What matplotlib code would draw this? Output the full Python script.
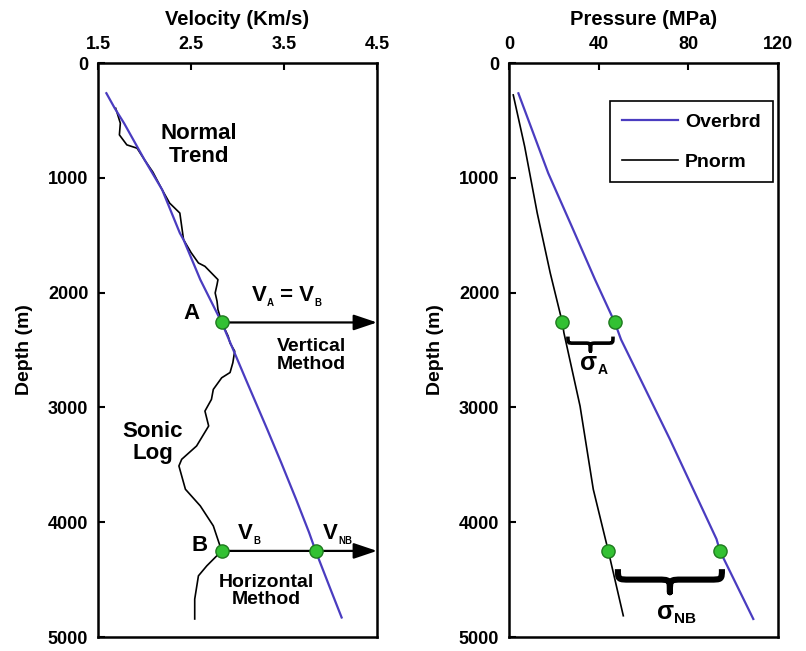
import numpy as np
import matplotlib
matplotlib.use('Agg')
import matplotlib.pyplot as plt
from matplotlib.path import Path
from matplotlib.patches import PathPatch

plt.rcParams['font.family'] = ['Liberation Sans', 'DejaVu Sans']
plt.rcParams['font.weight'] = 'bold'

# normal compaction trend (velocity km/s, depth m)
trend_vel = [1.59, 1.68, 1.78, 2.00, 2.19, 2.38, 2.42, 2.60, 2.83, 3.09, 3.32, 3.47, 3.63, 3.77, 3.84, 4.00, 4.12]
trend_depth = [263, 394, 524, 843, 1104, 1481, 1539, 1887, 2260, 2757, 3191, 3481, 3800, 4090, 4250, 4583, 4830]

# sonic log
sonic_vel = [1.69, 1.74, 1.73, 1.81, 1.92, 2.00, 2.09, 2.19, 2.27, 2.38, 2.40, 2.42, 2.50, 2.58, 2.65, 2.79, 2.78,
             2.76, 2.78, 2.79, 2.83, 2.90, 2.92, 2.97, 2.95, 2.92, 2.83, 2.74, 2.72, 2.65, 2.69, 2.56, 2.40, 2.37,
             2.44, 2.60, 2.74, 2.83, 2.67, 2.58, 2.54, 2.54]
sonic_depth = [394, 524, 626, 713, 742, 843, 950, 1104, 1220, 1307, 1423, 1539, 1650, 1742, 1771, 1887, 1930,
               2003, 2075, 2148, 2260, 2380, 2440, 2510, 2611, 2696, 2742, 2843, 2930, 3032, 3162, 3336, 3452, 3510,
               3713, 3858, 4032, 4250, 4380, 4467, 4670, 4843]

# pressures (MPa)
overbrd_p = [4.2, 17.5, 28.0, 38.4, 47.2, 50.0, 71.8, 92.6, 94.1, 109.0]
overbrd_depth = [264, 959, 1423, 1887, 2260, 2409, 3278, 4148, 4250, 4843]
pnorm_p = [1.9, 7.0, 12.6, 18.4, 23.8, 24.5, 31.7, 37.6, 44.3, 51.0]
pnorm_depth = [278, 728, 1307, 1829, 2260, 2350, 2988, 3713, 4250, 4815]

depth_A = 2260
depth_B = 4250
vel_A = 2.83
vel_NB = 3.84
p_A = [23.8, 47.2]
p_NB = [44.3, 94.1]

vel_ticks = [1.5, 2.5, 3.5, 4.5]
p_ticks = [0, 40, 80, 120]
depth_ticks = [0, 1000, 2000, 3000, 4000, 5000]

blue = '#4a3cc0'
green = '#33c133'
green_edge = '#1f7a1f'

fig = plt.figure(figsize=(8.06, 6.51), dpi=100)
ax1 = fig.add_axes([0.1216, 0.0215, 0.3461, 0.8817])
ax2 = fig.add_axes([0.6315, 0.0215, 0.3337, 0.8817])


def style_axis(ax, xlim, xticks, xlabel):
    ax.set_xlim(*xlim)
    ax.set_ylim(5000, 0)
    ax.set_xticks(xticks)
    ax.set_xticklabels([str(t) for t in xticks])
    ax.set_yticks(depth_ticks)
    ax.xaxis.tick_top()
    ax.xaxis.set_label_position('top')
    ax.tick_params(direction='in', length=5, width=1.5, labelsize=13, pad=7,
                   top=True, bottom=False, right=False)
    for s in ax.spines.values():
        s.set_linewidth(1.8)
    ax.set_xlabel(xlabel, fontsize=14.5, fontweight='bold', labelpad=8)
    ax.set_ylabel('Depth (m)', fontsize=14, fontweight='bold', labelpad=11)


def sub_text(ax, x, y, parts, zorder=6):
    # parts: (string, fontsize, is_subscript); pieces are chained left to right
    first = ax.text(x, y, parts[0][0], fontsize=parts[0][1], fontweight='bold',
                    ha='left', va='baseline', zorder=zorder)
    prev = first
    for s, size, is_sub in parts[1:]:
        prev = ax.annotate(s, xy=(1, 0), xycoords=(prev, first),
                           xytext=(0.3, -1.5 if is_sub else 0), textcoords='offset points',
                           fontsize=size, fontweight='bold', ha='left', va='bottom', zorder=zorder)
    return first


def brace(ax, x0, x1, y_end, y_bar, y_tip, lw):
    xm = 0.5 * (x0 + x1)
    q = 0.12 * (x1 - x0)
    verts = [(x0, y_end), (x0, y_bar), (x0, y_bar), (x0 + q, y_bar),
             (xm - q, y_bar), (xm, y_bar), (xm, y_bar), (xm, y_tip),
             (xm, y_bar), (xm, y_bar), (xm + q, y_bar),
             (x1 - q, y_bar), (x1, y_bar), (x1, y_bar), (x1, y_end)]
    codes = [Path.MOVETO, Path.CURVE4, Path.CURVE4, Path.CURVE4,
             Path.LINETO, Path.CURVE4, Path.CURVE4, Path.CURVE4,
             Path.CURVE4, Path.CURVE4, Path.CURVE4,
             Path.LINETO, Path.CURVE4, Path.CURVE4, Path.CURVE4]
    ax.add_patch(PathPatch(Path(verts, codes), fill=False, lw=lw, color='black',
                           capstyle='butt', joinstyle='round', zorder=5))


# velocity panel
style_axis(ax1, (1.5, 4.5), vel_ticks, 'Velocity (Km/s)')
ax1.plot(sonic_vel, sonic_depth, color='black', lw=1.2, zorder=2)
ax1.plot(trend_vel, trend_depth, color=blue, lw=1.6, zorder=3)

arrow_kw = dict(arrowstyle='-|>,head_length=0.95,head_width=0.32', color='black', lw=1.6,
                shrinkA=0, shrinkB=0, mutation_scale=15)
ax1.annotate('', xy=(4.5, depth_A), xytext=(vel_A, depth_A), arrowprops=arrow_kw,
             annotation_clip=False, zorder=4)
ax1.annotate('', xy=(4.5, depth_B), xytext=(vel_A, depth_B), arrowprops=arrow_kw,
             annotation_clip=False, zorder=4)
ax1.plot([vel_A, vel_A, vel_NB], [depth_A, depth_B, depth_B], 'o', ms=9.5,
         mfc=green, mec=green_edge, mew=1.0, zorder=6)

ax1.text(2.586, 713, 'Normal\nTrend', fontsize=16, ha='center', va='center', linespacing=1.1)
ax1.text(2.507, 2178, 'A', fontsize=16, ha='center', va='center')
ax1.text(2.597, 4206, 'B', fontsize=16, ha='center', va='center')
ax1.text(2.086, 3304, 'Sonic\nLog', fontsize=16, ha='center', va='center', linespacing=1.1)
ax1.text(3.797, 2548, 'Vertical\nMethod', fontsize=14, ha='center', va='center', linespacing=1.05)
ax1.text(3.314, 4600, 'Horizontal\nMethod', fontsize=14, ha='center', va='center', linespacing=1.05)
sub_text(ax1, 3.153, 2076, [('V', 16, False), ('A', 7, True), (' = V', 16, False), ('B', 7, True)])
sub_text(ax1, 3.009, 4148, [('V', 16, False), ('B', 7, True)])
sub_text(ax1, 3.923, 4148, [('V', 16, False), ('NB', 7, True)])

# pressure panel
style_axis(ax2, (0, 120), p_ticks, 'Pressure (MPa)')
ax2.plot(overbrd_p, overbrd_depth, color=blue, lw=1.6, label='Overbrd', zorder=3)
ax2.plot(pnorm_p, pnorm_depth, color='black', lw=1.2, label='Pnorm', zorder=2)
ax2.plot(p_A + p_NB, [depth_A, depth_A, depth_B, depth_B], 'o', ms=9.5,
         mfc=green, mec=green_edge, mew=1.0, zorder=6)

brace(ax2, 26.3, 46.4, 2383, 2440, 2510, 2.6)
brace(ax2, 48.6, 95.0, 4409, 4500, 4610, 4.4)
sub_text(ax2, 31.7, 2670, [('σ', 18, False), ('A', 10, True)])
sub_text(ax2, 65.9, 4843, [('σ', 18, False), ('NB', 11, True)])

leg = ax2.legend(loc='upper right', bbox_to_anchor=(0.98, 0.933), borderaxespad=0,
                 fancybox=False, edgecolor='black', framealpha=1, fontsize=14,
                 handlelength=2.9, handletextpad=0.35, labelspacing=1.15, borderpad=0.6)
leg.get_frame().set_linewidth(1.2)

fig.savefig('out.png', dpi=100)
